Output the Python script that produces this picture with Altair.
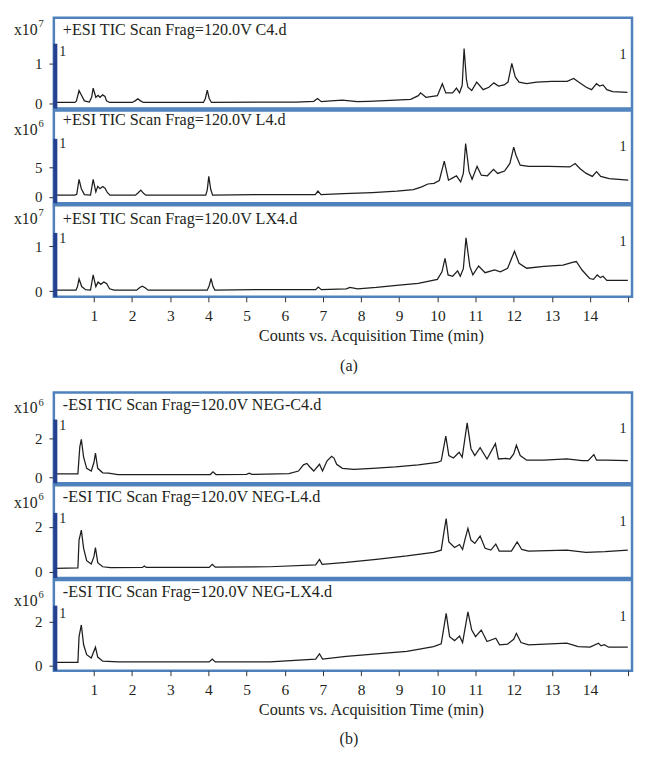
import altair as alt
import pandas as pd

# ---------------- data (time in min, signal in units of the panel multiplier) -------------
A1_TIC = [(0.0, 0.02), (0.5, 0.02), (0.54, 0.05), (0.61, 0.32), (0.68, 0.19), (0.75, 0.06), (0.88, 0.03),
          (0.94, 0.15), (0.98, 0.38), (1.05, 0.15), (1.11, 0.2), (1.16, 0.15), (1.23, 0.21), (1.29, 0.17),
          (1.33, 0.06), (1.41, 0.02), (2.0, 0.02), (2.08, 0.06), (2.15, 0.11), (2.22, 0.06), (2.3, 0.02),
          (3.87, 0.02), (3.92, 0.12), (3.97, 0.33), (4.02, 0.12), (4.08, 0.02), (5.8, 0.03), (6.3, 0.03),
          (6.76, 0.05), (6.86, 0.12), (6.96, 0.04), (7.21, 0.06), (7.51, 0.08), (7.9, 0.04), (8.2, 0.05),
          (8.9, 0.08), (9.3, 0.1), (9.5, 0.19), (9.56, 0.26), (9.7, 0.15), (10.0, 0.19), (10.13, 0.49),
          (10.22, 0.26), (10.4, 0.26), (10.5, 0.38), (10.58, 0.26), (10.65, 0.45), (10.7, 1.37), (10.76, 0.6),
          (10.8, 0.4), (10.9, 0.32), (11.03, 0.53), (11.2, 0.34), (11.35, 0.4), (11.48, 0.51), (11.6, 0.43),
          (11.75, 0.46), (11.85, 0.53), (11.95, 1.0), (12.04, 0.66), (12.14, 0.53), (12.34, 0.49), (12.6, 0.53),
          (13.0, 0.55), (13.4, 0.55), (13.57, 0.62), (13.7, 0.53), (13.9, 0.4), (14.04, 0.34), (14.17, 0.49),
          (14.25, 0.43), (14.34, 0.46), (14.44, 0.34), (14.59, 0.29), (14.98, 0.27)]

A2_TIC = [(0.0, 0.3), (0.5, 0.3), (0.55, 0.45), (0.61, 3.0), (0.67, 1.4), (0.75, 0.4), (0.91, 0.3), (0.98, 3.0),
          (1.05, 0.85), (1.1, 1.8), (1.16, 1.4), (1.23, 1.75), (1.29, 1.5), (1.35, 0.75), (1.42, 0.3), (2.09, 0.3),
          (2.16, 0.7), (2.23, 1.15), (2.3, 0.6), (2.36, 0.3), (3.93, 0.3), (3.97, 1.2), (4.01, 3.5), (4.06, 1.3),
          (4.11, 0.3), (5.49, 0.4), (6.14, 0.4), (6.8, 0.4), (6.87, 1.0), (6.95, 0.4), (7.54, 0.57), (8.29, 0.74),
          (8.94, 0.97), (9.37, 1.25), (9.59, 1.7), (9.75, 2.2), (9.91, 2.3), (10.05, 2.8), (10.18, 6.1),
          (10.29, 2.85), (10.39, 3.2), (10.5, 3.6), (10.61, 2.55), (10.68, 4.0), (10.74, 9.1), (10.83, 4.3),
          (10.91, 3.0), (11.04, 5.2), (11.15, 3.7), (11.31, 3.6), (11.47, 4.7), (11.58, 4.0), (11.76, 4.4),
          (11.9, 5.7), (12.0, 8.5), (12.06, 7.1), (12.17, 5.4), (12.39, 5.2), (12.93, 5.2), (13.47, 5.1),
          (13.61, 5.7), (13.74, 4.8), (13.9, 4.0), (14.06, 3.5), (14.17, 4.3), (14.28, 3.5), (14.5, 3.1),
          (15.0, 2.85)]

A3_TIC = [(0.0, 0.02), (0.53, 0.02), (0.57, 0.1), (0.61, 0.27), (0.68, 0.1), (0.78, 0.03), (0.91, 0.02),
          (0.98, 0.36), (1.05, 0.1), (1.11, 0.2), (1.18, 0.15), (1.26, 0.2), (1.33, 0.17), (1.41, 0.05),
          (1.53, 0.02), (2.12, 0.02), (2.2, 0.08), (2.27, 0.11), (2.35, 0.07), (2.42, 0.02), (3.97, 0.02),
          (4.02, 0.12), (4.07, 0.28), (4.12, 0.1), (4.17, 0.02), (5.21, 0.03), (6.81, 0.03), (6.88, 0.09),
          (6.96, 0.03), (7.61, 0.05), (7.71, 0.08), (7.91, 0.05), (8.4, 0.08), (9.0, 0.13), (9.5, 0.17),
          (10.0, 0.26), (10.12, 0.43), (10.2, 0.73), (10.28, 0.36), (10.4, 0.33), (10.53, 0.45), (10.6, 0.33),
          (10.68, 0.5), (10.75, 1.19), (10.85, 0.55), (10.93, 0.36), (11.08, 0.56), (11.25, 0.41), (11.5, 0.47),
          (11.65, 0.43), (11.84, 0.51), (12.02, 0.89), (12.14, 0.62), (12.34, 0.51), (12.79, 0.55),
          (13.29, 0.58), (13.54, 0.64), (13.64, 0.66), (13.79, 0.47), (13.99, 0.28), (14.09, 0.26),
          (14.19, 0.36), (14.27, 0.3), (14.34, 0.33), (14.44, 0.24), (14.99, 0.24)]

B1_TIC = [(0.0, 0.18), (0.58, 0.18), (0.63, 1.56), (0.67, 1.95), (0.73, 1.03), (0.81, 0.46), (0.93, 0.32),
          (1.0, 0.76), (1.04, 1.24), (1.1, 0.46), (1.23, 0.23), (1.38, 0.21), (1.63, 0.14), (4.05, 0.14),
          (4.12, 0.28), (4.2, 0.14), (5.0, 0.15), (5.07, 0.21), (5.14, 0.15), (6.11, 0.19), (6.36, 0.32),
          (6.49, 0.64), (6.58, 0.71), (6.66, 0.53), (6.76, 0.32), (6.91, 0.67), (6.99, 0.32), (7.11, 0.85),
          (7.23, 1.08), (7.29, 0.99), (7.36, 0.67), (7.51, 0.46), (7.81, 0.41), (8.3, 0.46), (8.9, 0.53),
          (9.5, 0.64), (10.0, 0.76), (10.1, 0.85), (10.22, 2.12), (10.3, 1.12), (10.42, 0.99), (10.57, 1.29),
          (10.65, 1.03), (10.78, 2.8), (10.88, 1.47), (10.98, 1.12), (11.12, 1.52), (11.3, 0.94), (11.52, 1.73),
          (11.6, 0.94), (11.8, 0.97), (11.9, 0.94), (12.0, 1.2), (12.07, 1.65), (12.17, 1.12), (12.34, 0.88),
          (12.79, 0.88), (13.39, 0.94), (13.79, 0.85), (13.95, 0.85), (14.1, 1.17), (14.17, 0.88),
          (14.42, 0.88), (14.99, 0.85)]

B2_TIC = [(0.0, 0.15), (0.58, 0.17), (0.61, 1.41), (0.67, 1.85), (0.73, 1.04), (0.81, 0.49), (0.93, 0.34),
          (1.0, 0.67), (1.04, 1.07), (1.1, 0.4), (1.23, 0.22), (1.43, 0.18), (2.27, 0.19), (2.32, 0.25),
          (2.37, 0.19), (4.02, 0.19), (4.1, 0.33), (4.18, 0.2), (5.61, 0.22), (6.81, 0.3), (6.91, 0.55),
          (6.98, 0.33), (7.61, 0.41), (8.4, 0.55), (9.2, 0.7), (9.9, 0.86), (10.1, 0.96), (10.18, 1.85),
          (10.23, 2.37), (10.3, 1.33), (10.45, 1.08), (10.58, 1.21), (10.66, 0.99), (10.73, 1.48), (10.8, 1.93),
          (10.88, 1.41), (10.98, 1.26), (11.12, 1.59), (11.25, 1.04), (11.4, 0.96), (11.53, 1.23), (11.62, 0.92),
          (11.94, 0.92), (12.09, 1.33), (12.21, 0.99), (12.39, 0.92), (13.39, 0.96), (13.89, 0.86),
          (14.39, 0.89), (14.99, 0.96)]

B3_TIC = [(0.0, 0.15), (0.58, 0.15), (0.61, 1.32), (0.67, 1.85), (0.73, 0.95), (0.81, 0.5), (0.93, 0.35),
          (1.04, 0.84), (1.1, 0.39), (1.23, 0.2), (1.63, 0.17), (4.02, 0.17), (4.1, 0.3), (4.18, 0.17),
          (5.61, 0.17), (6.81, 0.3), (6.91, 0.54), (6.99, 0.3), (7.61, 0.42), (8.4, 0.53), (9.2, 0.65),
          (9.9, 0.87), (10.1, 0.99), (10.23, 2.38), (10.32, 1.32), (10.45, 1.14), (10.58, 1.35), (10.66, 1.05),
          (10.8, 2.45), (10.9, 1.62), (11.0, 1.32), (11.15, 1.62), (11.3, 1.1), (11.53, 1.25), (11.63, 0.95),
          (11.84, 0.98), (12.0, 1.2), (12.07, 1.47), (12.19, 1.05), (12.39, 0.95), (13.39, 1.02),
          (13.69, 0.87), (14.0, 0.84), (14.22, 1.02), (14.29, 0.9), (14.37, 0.95), (14.49, 0.84),
          (14.99, 0.84)]

TITLES = ["+ESI TIC Scan Frag=120.0V C4.d", "+ESI TIC Scan Frag=120.0V L4.d",
          "+ESI TIC Scan Frag=120.0V LX4.d", "-ESI TIC Scan Frag=120.0V NEG-C4.d",
          "-ESI TIC Scan Frag=120.0V NEG-L4.d", "-ESI TIC Scan Frag=120.0V NEG-LX4.d"]
EXPONENTS = ["7", "6", "7", "6", "6", "6"]
Y_TICKS = [[0, 1], [0, 5], [0, 1], [0, 2], [0, 2], [0, 2]]
Y_DOMAINS = [[-0.13, 2.14], [-1.07, 14.74], [-0.13, 1.92], [-0.31, 4.36], [-0.28, 3.85], [-0.23, 3.9]]
Y_BAR_TOP = [1.49, 9.9, 1.3, 2.97, 2.62, 2.73]
X_TICKS = list(range(1, 16))
X_TITLE = "Counts vs. Acquisition Time (min)"
GROUP_LABELS = ["(a)", "(b)"]

# ---------------- styling -------------
FONT = "Liberation Serif"
TEXT = "#231f20"
LINE = "#1e1e1e"
BOX = "#4f81bd"
BAR = "#24408e"
W = 580
HEIGHTS = [91, 93, 92, 91, 93, 91]
HDR_Y = [12, 10, 14, 12, 12, 12.5]
X10_Y = [12.5, 20, 14, 16, 18, 21.5]


def panel(i, data, bottom_label=None):
    df = pd.DataFrame(data, columns=["t", "v"])
    h = HEIGHTS[i]
    if bottom_label:
        xaxis = alt.Axis(values=X_TICKS, labelExpr="datum.value == 15 ? '' : datum.label",
                         tickSize=5, tickColor="#333333", tickWidth=1, domain=False, grid=False,
                         labelFont=FONT, labelFontSize=15.5, labelColor=TEXT, labelPadding=7,
                         title=X_TITLE, titleFont=FONT, titleFontSize=16.3, titleFontWeight="normal",
                         titleColor=TEXT, titleX=318, titlePadding=3)
    else:
        xaxis = None
    x = alt.X("t:Q", scale=alt.Scale(domain=[-0.05, 15.1], nice=False, zero=False), axis=xaxis)
    y = alt.Y("v:Q", scale=alt.Scale(domain=Y_DOMAINS[i], nice=False, zero=False),
              axis=alt.Axis(values=Y_TICKS[i], tickSize=5, tickColor="#333333", domain=False,
                            grid=False, labelFont=FONT, labelFontSize=15, labelColor=TEXT,
                            labelPadding=7, title=None))
    line = alt.Chart(df).mark_line(color=LINE, strokeWidth=1.25).encode(x=x, y=y)
    bar = alt.Chart(pd.DataFrame({"v": [Y_DOMAINS[i][0]], "v2": [Y_BAR_TOP[i]]})).mark_rule(
        color=BAR, strokeWidth=4).encode(x=alt.value(1.5), y=y, y2="v2:Q")

    def txt(s, xv, yv, size=16.2, align="left"):
        return alt.Chart(pd.DataFrame({"s": [s]})).mark_text(
            align=align, baseline="middle", font=FONT, fontSize=size, color=TEXT
        ).encode(x=alt.value(xv), y=alt.value(yv), text="s:N")

    layers = [line, bar,
              txt(TITLES[i], 9, HDR_Y[i]),
              txt("1", 9, 34, 14, "center"),
              txt("1", W - 9, 37, 14, "center"),
              txt("x10", -40, X10_Y[i], 15.8),
              txt(EXPONENTS[i], -15.5, X10_Y[i] - 6, 10.5)]
    if bottom_label:
        layers.append(txt(bottom_label, 296, h + 69, 16, "center"))
    return alt.layer(*layers).properties(width=W, height=h)


group_a = alt.vconcat(panel(0, A1_TIC), panel(1, A2_TIC), panel(2, A3_TIC, GROUP_LABELS[0]),
                      spacing=2, bounds="flush")
group_b = alt.vconcat(panel(3, B1_TIC), panel(4, B2_TIC), panel(5, B3_TIC, GROUP_LABELS[1]),
                      spacing=2, bounds="flush")

chart = alt.vconcat(group_a, group_b, spacing=15).properties(
    padding={"left": 4, "top": 6.6, "right": 6, "bottom": 4}
).configure_view(stroke=BOX, strokeWidth=2.5)

chart.save("out.html", embed_options={"renderer": "svg", "actions": False})
